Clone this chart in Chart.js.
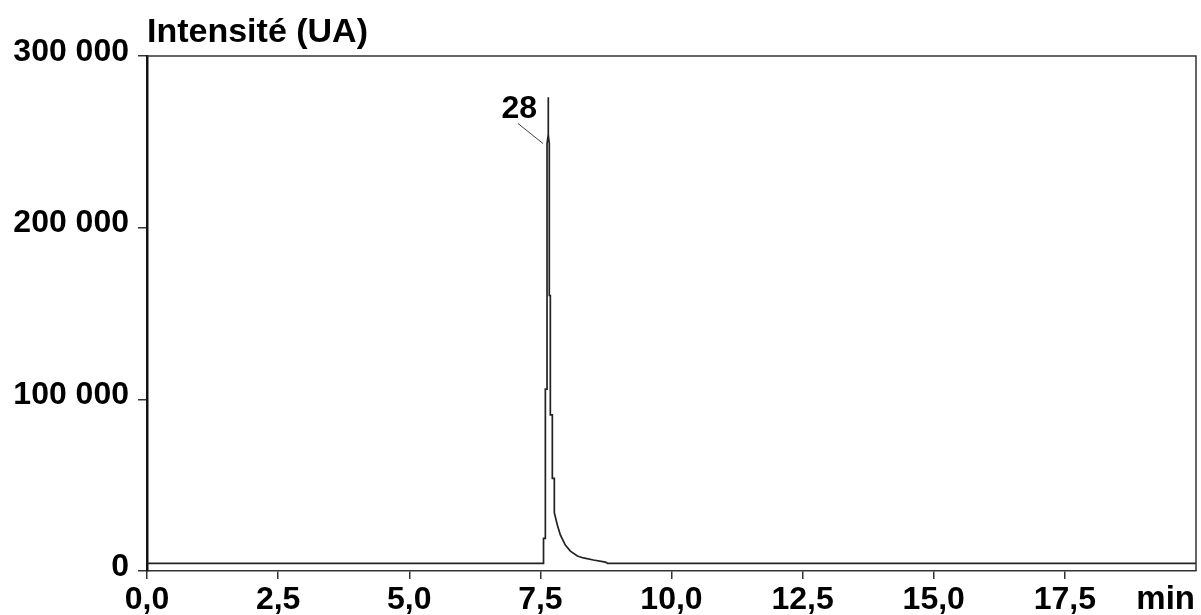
<!DOCTYPE html>
<html>
<head>
<meta charset="utf-8">
<script src="https://cdn.jsdelivr.net/npm/chart.js@4.4.1/dist/chart.umd.min.js"></script>
<style>
  html, body { margin: 0; padding: 0; background: #fff; }
  #wrap { width: 1201px; height: 615px; }
</style>
</head>
<body>
<div id="wrap"><canvas id="c" width="1201" height="615"></canvas></div>
<script>
// Retention time (min) and intensity (UA)
const times = [0, 7.56, 7.56, 7.595, 7.595, 7.627, 7.627, 7.65, 7.65, 7.652, 7.67, 7.67, 7.69, 7.69, 7.728, 7.728, 7.766, 7.766, 7.823, 7.881, 7.976, 8.072, 8.206, 8.321, 8.512, 8.74, 8.78, 20];
const intensities = [4500, 4500, 19000, 19000, 106000, 106000, 249000, 254000, 276000, 254000, 249000, 160500, 160500, 91000, 91000, 54000, 54000, 34000, 26800, 21000, 15100, 11600, 8700, 7600, 6400, 5200, 4500, 4500];
const xTicks = [0, 2.5, 5, 7.5, 10, 12.5, 15, 17.5];
const yTicks = [0, 100000, 200000, 300000];
const peakLabel = { text: '28', t: 7.627, v: 249000 };
const yTitle = 'Intensité (UA)';
const xUnit = 'min';

const FAMILY = '"Liberation Sans", Arial, sans-serif';

const fmtX = v => v.toFixed(1).replace('.', ',');
const fmtY = v => v === 0 ? '0' : String(v / 1000) + ' 000';

const decor = {
  id: 'decor',
  afterDraw(chart) {
    const { ctx, chartArea: a, scales } = chart;
    ctx.save();
    // frame top/right
    ctx.strokeStyle = '#333';
    ctx.lineWidth = 1.5;
    ctx.beginPath();
    ctx.moveTo(a.left, a.top);
    ctx.lineTo(a.right, a.top);
    ctx.lineTo(a.right, a.bottom);
    ctx.stroke();
    // y title
    ctx.fillStyle = '#000';
    ctx.font = 'bold 34px ' + FAMILY;
    ctx.textAlign = 'left';
    ctx.textBaseline = 'alphabetic';
    ctx.fillText(yTitle, a.left, a.top - 14);
    // unit
    ctx.font = 'bold 33px ' + FAMILY;
    ctx.textAlign = 'right';
    ctx.fillText(xUnit, a.right - 1, a.bottom + 38);
    // peak label
    const px = scales.x.getPixelForValue(peakLabel.t);
    const py = scales.y.getPixelForValue(peakLabel.v);
    ctx.strokeStyle = '#444';
    ctx.lineWidth = 1;
    ctx.beginPath();
    ctx.moveTo(px - 4, py);
    ctx.lineTo(px - 29, py - 20);
    ctx.stroke();
    ctx.font = 'bold 32px ' + FAMILY;
    ctx.fillText(peakLabel.text, px - 10, py - 26);
    ctx.restore();
  }
};

new Chart(document.getElementById('c'), {
  type: 'line',
  data: {
    datasets: [{
      data: times.map((t, i) => ({ x: t, y: intensities[i] })),
      borderColor: '#222',
      borderWidth: 1.7,
      pointRadius: 0,
      tension: 0,
      fill: false
    }]
  },
  options: {
    responsive: false,
    animation: false,
    layout: { padding: { top: 56, right: 5, left: 0, bottom: 0 } },
    plugins: { legend: { display: false }, tooltip: { enabled: false } },
    scales: {
      x: {
        type: 'linear',
        min: 0, max: 20,
        afterBuildTicks: s => { s.ticks = xTicks.map(v => ({ value: v })); },
        afterFit: s => { s.height = 44; },
        border: { display: true, color: '#333', width: 1.5 },
        grid: { drawOnChartArea: false, drawTicks: true, tickLength: 8, color: '#333', lineWidth: 1.5 },
        ticks: {
          color: '#000',
          font: { family: FAMILY, size: 32, weight: 'bold' },
          padding: 2,
          maxRotation: 0,
          autoSkip: false,
          callback: v => fmtX(v)
        }
      },
      y: {
        min: 0, max: 300000,
        afterBuildTicks: s => { s.ticks = yTicks.map(v => ({ value: v })); },
        afterFit: s => { s.width = 147; },
        border: { display: true, color: '#111', width: 2.5 },
        grid: { drawOnChartArea: false, drawTicks: true, tickLength: 9, color: '#333', lineWidth: 1.5 },
        ticks: {
          color: '#000',
          font: { family: FAMILY, size: 32, weight: 'bold' },
          padding: 9,
          labelOffset: -4,
          callback: v => fmtY(v)
        }
      }
    }
  },
  plugins: [decor]
});
</script>
</body>
</html>
